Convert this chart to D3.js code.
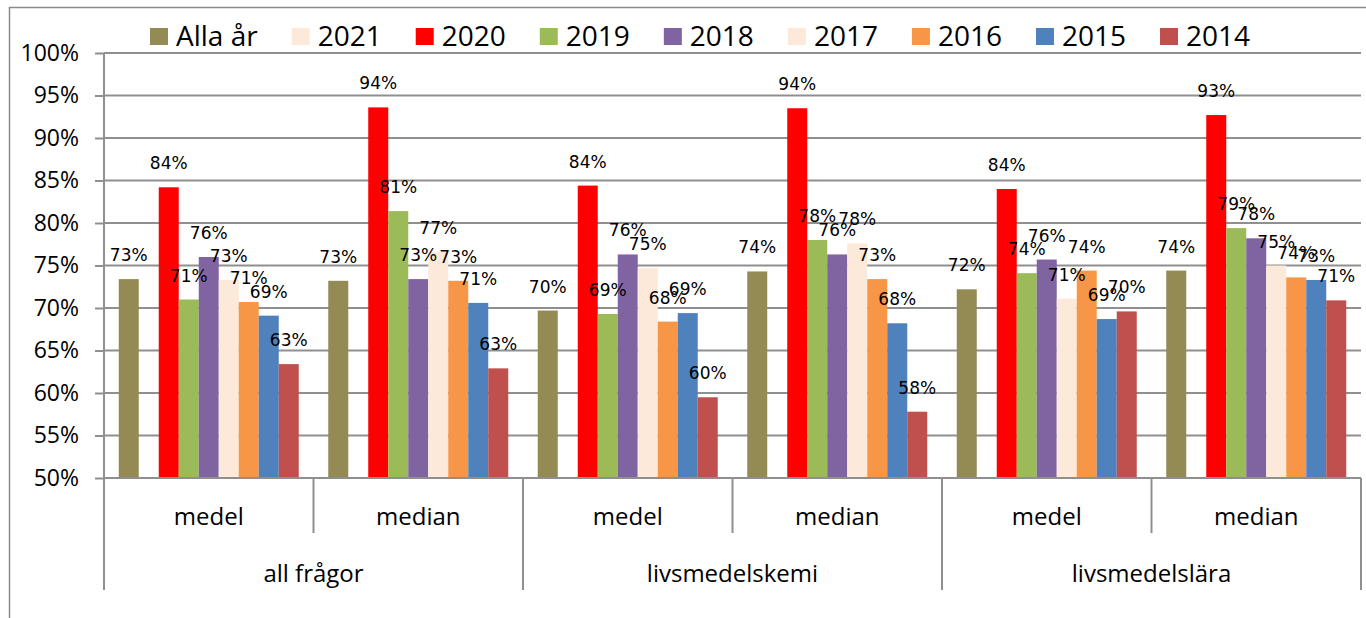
<!DOCTYPE html>
<html>
<head>
<meta charset="utf-8">
<script src="https://cdn.jsdelivr.net/npm/d3@7"></script>
<style>
  body { margin: 0; background: #fff; }
  svg { display: block; }
</style>
</head>
<body>
<div id="chart"></div>
<script>
var width = 1366;
var height = 618;

// categories
var mainCats = ["all frågor", "livsmedelskemi", "livsmedelslära"];
var subCats = ["medel", "median"];
var series = ["Alla år", "2021", "2020", "2019", "2018", "2017", "2016", "2015", "2014"];
var colors = ["#948A54", "#FDE9D9", "#FF0000", "#9BBB59", "#8064A2", "#FDE9D9", "#F79646", "#4F81BD", "#C0504D"];

// values in %, one per group (all frågor medel, median, livsmedelskemi medel, median, livsmedelslära medel, median)
var allaAr = [73.4, 73.2, 69.7, 74.3, 72.2, 74.4];
var y2021  = [0, 0, 0, 0, 0, 0];
var y2020  = [84.2, 93.6, 84.4, 93.5, 84.0, 92.7];
var y2019  = [71.0, 81.4, 69.3, 78.0, 74.1, 79.4];
var y2018  = [76.0, 73.4, 76.3, 76.3, 75.7, 78.2];
var y2017  = [73.3, 76.6, 74.7, 77.6, 71.1, 75.0];
var y2016  = [70.7, 73.2, 68.4, 73.4, 74.4, 73.6];
var y2015  = [69.1, 70.6, 69.4, 68.2, 68.7, 73.3];
var y2014  = [63.4, 62.9, 59.5, 57.8, 69.6, 70.9];

var yTicks = [50, 55, 60, 65, 70, 75, 80, 85, 90, 95, 100];

var seriesValues = [allaAr, y2021, y2020, y2019, y2018, y2017, y2016, y2015, y2014];

// groups = main category x sub category
var groups = [];
mainCats.forEach(function(m) {
    subCats.forEach(function(s) { groups.push(m + "|" + s); });
});

var svg = d3.select("#chart").append("svg")
    .attr("width", width)
    .attr("height", height);

// outer chart frame (cut at the bottom)
svg.append("rect")
    .attr("x", 9.5).attr("y", 7.5)
    .attr("width", 1400).attr("height", 700)
    .attr("fill", "none")
    .attr("stroke", "#8a8a8a")
    .attr("stroke-width", 1.5);

var plotLeft = 104, plotRight = 1361;

var x0 = d3.scaleBand().domain(groups).range([plotLeft, plotRight]);
var barW = 20;
var outerPad = (x0.bandwidth() / barW - series.length) / 2;
var x1 = d3.scaleBand().domain(series).range([0, x0.bandwidth()])
    .paddingInner(0).paddingOuter(outerPad);

var y = d3.scaleLinear().domain([50, 100]).range([478, 53]);

// gridlines
svg.append("g")
    .selectAll("line")
    .data(yTicks)
    .join("line")
    .attr("x1", plotLeft).attr("x2", plotRight)
    .attr("y1", function(d) { return y(d); })
    .attr("y2", function(d) { return y(d); })
    .attr("stroke", "#8f8f8f")
    .attr("stroke-width", 2);

// y axis
var yAxis = d3.axisLeft(y)
    .tickValues(yTicks)
    .tickSize(9)
    .tickPadding(16)
    .tickFormat(function(d) { return d + "%"; });

var gy = svg.append("g")
    .attr("transform", "translate(" + plotLeft + ",0)")
    .call(yAxis);
gy.select(".domain").remove();
gy.selectAll(".tick line").attr("stroke", "#8f8f8f").attr("stroke-width", 2);
gy.selectAll(".tick text")
    .attr("fill", "#000")
    .style("font-family", "'Open Sans', sans-serif")
    .style("font-size", "23px");

// bars + data labels per series
var gBars = svg.append("g");
var gLabels = svg.append("g")
    .style("font-family", "'DejaVu Sans', sans-serif")
    .style("font-size", "17px");

series.forEach(function(s, i) {
    var rows = seriesValues[i].map(function(v, j) { return {g: groups[j], v: v}; })
        .filter(function(d) { return d.v >= 50; });

    gBars.append("g")
        .selectAll("rect")
        .data(rows)
        .join("rect")
        .attr("x", function(d) { return x0(d.g) + x1(s); })
        .attr("y", function(d) { return y(d.v); })
        .attr("width", x1.bandwidth())
        .attr("height", function(d) { return y(50) - y(d.v); })
        .attr("fill", colors[i]);

    gLabels.append("g")
        .selectAll("text")
        .data(rows)
        .join("text")
        .attr("x", function(d) { return x0(d.g) + x1(s) + x1.bandwidth() / 2; })
        .attr("y", function(d) { return y(d.v) - 18; })
        .attr("text-anchor", "middle")
        .attr("fill", "#000")
        .text(function(d) { return Math.round(d.v) + "%"; });
});

// y axis line (extends down into the category area)
svg.append("line")
    .attr("x1", plotLeft).attr("x2", plotLeft)
    .attr("y1", y(100)).attr("y2", 590)
    .attr("stroke", "#8f8f8f").attr("stroke-width", 2);

// x axis line
svg.append("line")
    .attr("x1", plotLeft).attr("x2", plotRight)
    .attr("y1", y(50)).attr("y2", y(50))
    .attr("stroke", "#8f8f8f").attr("stroke-width", 2);

// category dividers
var gCat = svg.append("g");
groups.forEach(function(g, k) {
    if (k === 0) return;
    var xx = x0(g);
    gCat.append("line")
        .attr("x1", xx).attr("x2", xx)
        .attr("y1", y(50)).attr("y2", k % 2 === 0 ? 590 : 533)
        .attr("stroke", "#8f8f8f").attr("stroke-width", 2);
});
gCat.append("line")
    .attr("x1", plotRight).attr("x2", plotRight)
    .attr("y1", y(50)).attr("y2", 590)
    .attr("stroke", "#8f8f8f").attr("stroke-width", 2);

// sub category labels
gCat.append("g")
    .selectAll("text")
    .data(groups)
    .join("text")
    .attr("x", function(d) { return x0(d) + x0.bandwidth() / 2; })
    .attr("y", 525)
    .attr("text-anchor", "middle")
    .style("font-family", "'Open Sans', sans-serif")
    .style("font-size", "24px")
    .text(function(d) { return d.split("|")[1]; });

// main category labels
gCat.append("g")
    .selectAll("text")
    .data(mainCats)
    .join("text")
    .attr("x", function(d) { return x0(d + "|" + subCats[1]); })
    .attr("y", 582)
    .attr("text-anchor", "middle")
    .style("font-family", "'Open Sans', sans-serif")
    .style("font-size", "24px")
    .text(function(d) { return d; });

// legend
var legend = svg.append("g")
    .style("font-family", "'Open Sans', sans-serif")
    .style("font-size", "28px");
var lx = 150;
series.forEach(function(s, i) {
    var item = legend.append("g").attr("transform", "translate(" + lx + ",0)");
    item.append("rect")
        .attr("x", 0).attr("y", 28)
        .attr("width", 18).attr("height", 17)
        .attr("fill", colors[i]);
    var t = item.append("text")
        .attr("x", 26).attr("y", 46)
        .attr("fill", "#000")
        .text(s);
    lx += 26 + t.node().getComputedTextLength() + 34;
});
</script>
</body>
</html>
